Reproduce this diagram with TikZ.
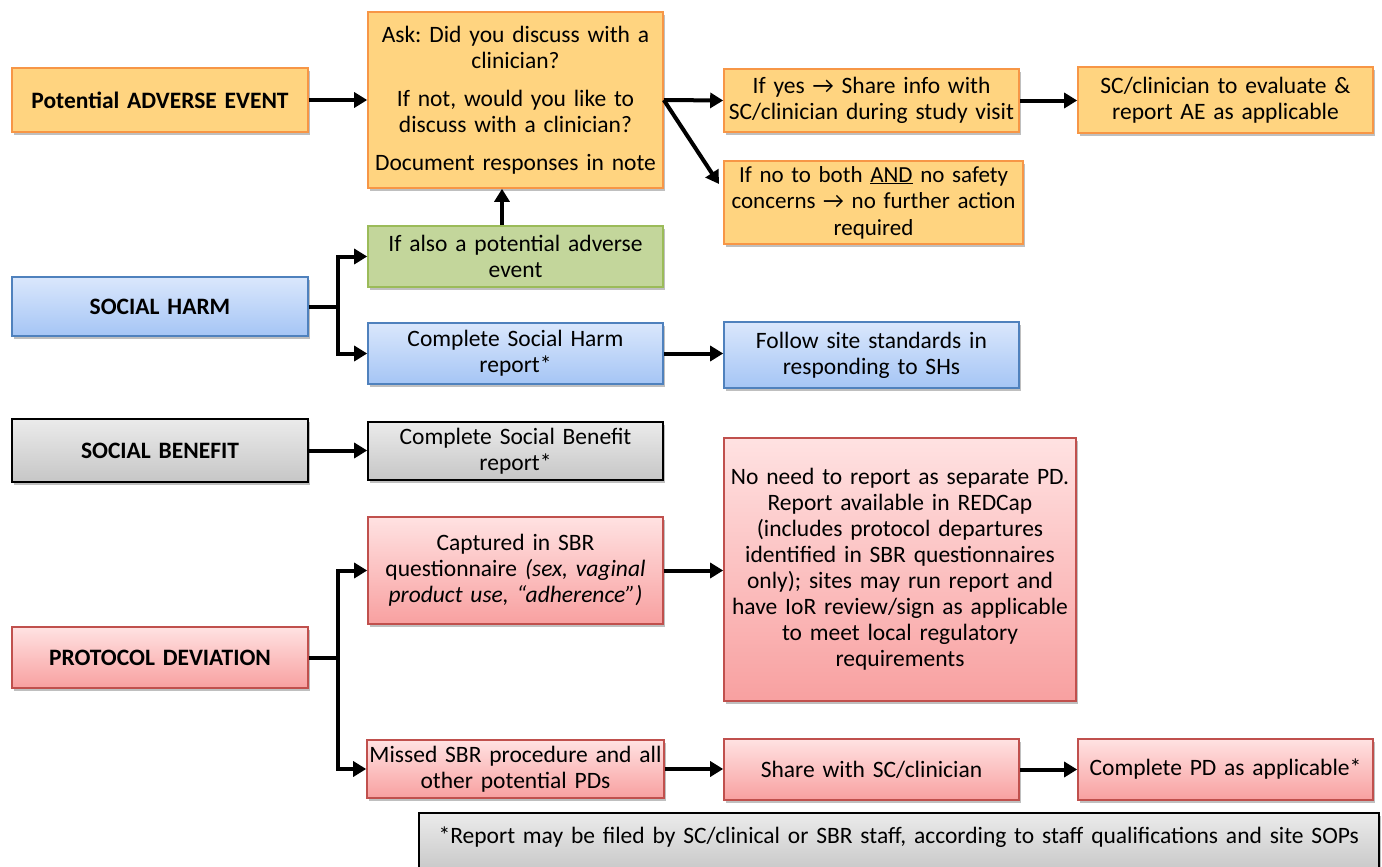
\documentclass[tikz,border=0pt]{standalone}
\usepackage{fontspec}
\setmainfont{Carlito}
\usetikzlibrary{arrows.meta,shadows}
\definecolor{orfill}{HTML}{FFD480}
\definecolor{ordraw}{HTML}{F79646}
\definecolor{grfill}{HTML}{C3D69B}
\definecolor{grdraw}{HTML}{9BBB59}
\definecolor{bltop}{HTML}{DAE7FC}
\definecolor{blbot}{HTML}{A5C5F5}
\definecolor{bldraw}{HTML}{4F81BD}
\definecolor{gytop}{HTML}{EBEBEB}
\definecolor{gybot}{HTML}{C6C6C6}
\definecolor{rdtop}{HTML}{FFE2E2}
\definecolor{rdbot}{HTML}{F8A0A0}
\definecolor{rddraw}{HTML}{C0504D}
\newcommand{\ar}{→}
\frenchspacing
\tikzset{
  base/.style={rectangle, align=center, inner sep=2pt, line width=1.6pt,
    font=\fontsize{23.5}{26}\selectfont,
    drop shadow={shadow xshift=2pt, shadow yshift=-3pt, opacity=0.25, fill=black}},
  orbox/.style={base, draw=ordraw, fill=orfill},
  grbox/.style={base, draw=grdraw, fill=grfill},
  blbox/.style={base, draw=bldraw, top color=bltop, bottom color=blbot},
  gybox/.style={base, draw=black, top color=gytop, bottom color=gybot},
  rdbox/.style={base, draw=rddraw, top color=rdtop, bottom color=rdbot},
  hd/.style={font=\fontsize{23.5}{26}\selectfont\bfseries},
  arr/.style={line width=4pt, -{Triangle[length=13pt,width=15pt]}},
  ln/.style={line width=4pt},
}
\begin{document}
\begin{tikzpicture}[x=1pt,y=-1pt]
\useasboundingbox (0,0) rectangle (1382,867);
% row 1
\node[orbox,hd,minimum width=296pt,minimum height=64pt,text width=290pt] (pae) at (160,100) {Potential ADVERSE EVENT};
\node[orbox,minimum width=295pt,minimum height=176pt,text width=291pt] (ask) at (515.5,100)
 {Ask: Did you discuss with a\\clinician?\\[12pt]If not, would you like to\\discuss with a clinician?\\[12pt]Document responses in note};
\node[orbox,minimum width=295pt,minimum height=63pt,text width=291pt] (yes) at (871.5,100.5)
 {If yes \ar{} Share info with\\SC/clinician during study visit};
\node[orbox,minimum width=295pt,minimum height=66pt,text width=291pt] (sce) at (1225.5,100)
 {SC/clinician to evaluate \&\\report AE as applicable};
\node[orbox,font=\fontsize{23}{26.5}\selectfont,minimum width=299pt,minimum height=83pt,text width=295pt] (no) at (873.5,202.5)
 {If no to both \underline{AND} no safety\\concerns \ar{} no further action\\required};
% social harm
\node[grbox,minimum width=295pt,minimum height=61pt,text width=291pt] (green) at (515.5,256.5)
 {If also a potential adverse\\event};
\node[blbox,hd,minimum width=296pt,minimum height=59pt,text width=290pt] (sh) at (160,306.5) {SOCIAL HARM};
\node[blbox,minimum width=295pt,minimum height=61pt,text width=291pt] (csh) at (515.5,353.5)
 {Complete Social Harm\\report*};
\node[blbox,minimum width=295pt,minimum height=66pt,text width=291pt] (follow) at (871.5,355)
 {Follow site standards in\\responding to SHs};
% social benefit
\node[gybox,hd,minimum width=296pt,minimum height=63pt,text width=290pt] (sb) at (160,450.5) {SOCIAL BENEFIT};
\node[gybox,minimum width=295pt,minimum height=58pt,text width=291pt] (csb) at (515.5,451)
 {Complete Social Benefit\\report*};
% protocol deviation
\node[rdbox,minimum width=295pt,minimum height=107pt,text width=291pt] (cap) at (515.5,570.5)
 {Captured in SBR\\questionnaire \textit{(sex, vaginal}\\\textit{product use, “adherence”)}};
\node[rdbox,minimum width=352pt,minimum height=263pt,text width=348pt] (noneed) at (900,569.5)
 {No need to report as separate PD.\\Report available in REDCap\\(includes protocol departures\\identified in SBR questionnaires\\only); sites may run report and\\have IoR review/sign as applicable\\to meet local regulatory\\requirements};
\node[rdbox,hd,minimum width=296pt,minimum height=61pt,text width=290pt] (pd) at (160,657.5) {PROTOCOL DEVIATION};
\node[rdbox,minimum width=295pt,minimum height=58pt,text width=293pt] (missed) at (515.5,769)
 {Missed SBR procedure and all\\other potential PDs};
\node[rdbox,minimum width=295pt,minimum height=61pt,text width=291pt] (share) at (871.5,769.5)
 {Share with SC/clinician};
\node[rdbox,minimum width=295pt,minimum height=61pt,text width=291pt] (cpd) at (1225.5,769.5)
 {Complete PD as applicable*};
\node[gybox,minimum width=960pt,minimum height=62pt,text width=950pt,anchor=north west,text depth=17pt] (foot) at (418,812)
 {*Report may be filed by SC/clinical or SBR staff, according to staff qualifications and site SOPs};
% connectors
\draw[arr] (pae.east) -- (ask.west |- pae.east);
\draw[arr] (ask.east) -- (yes.west);
\coordinate (nodiag) at (719,184);
\draw[arr] (ask.east) -- (nodiag);
\draw[arr] (yes.east) -- (sce.west |- yes.east);
\draw[arr] ([xshift=-13.5pt]green.north) -- ([xshift=-13.5pt]ask.south);
\coordinate (jsh) at (338,306.5);
\draw[ln] (sh.east) -- (jsh);
\draw[arr] (jsh) |- (green.west);
\draw[arr] (jsh) |- (csh.west);
\draw[arr] (csh.east) -- (follow.west |- csh.east);
\draw[arr] (sb.east) -- (csb.west |- sb.east);
\coordinate (jpd) at (338,657.5);
\draw[ln] (pd.east) -- (jpd);
\draw[arr] (jpd) |- (cap.west);
\draw[arr] (jpd) |- (missed.west);
\draw[arr] (cap.east) -- (noneed.west |- cap.east);
\draw[arr] (missed.east) -- (share.west |- missed.east);
\draw[arr] (share.east) -- (cpd.west);
\end{tikzpicture}
\end{document}
